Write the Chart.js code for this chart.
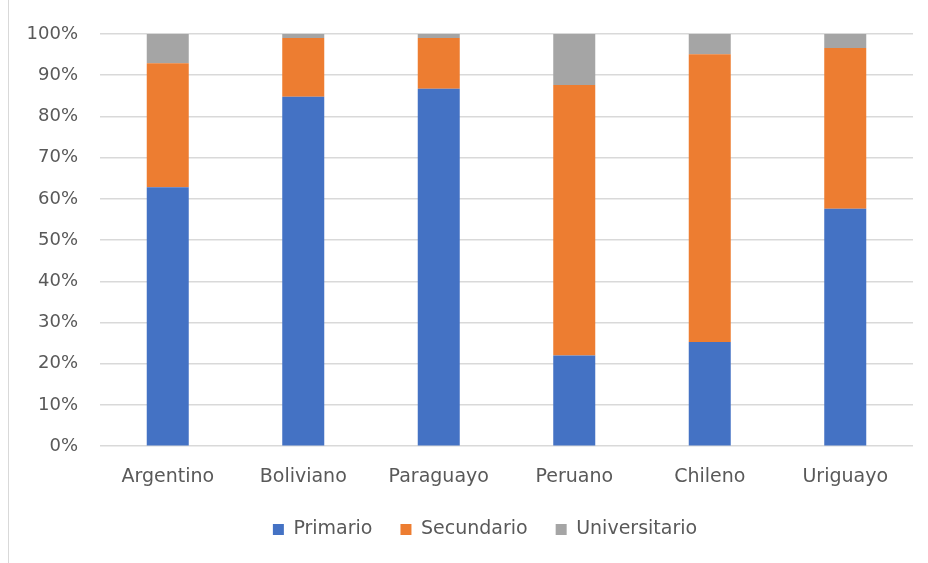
<!DOCTYPE html>
<html>
<head>
<meta charset="utf-8">
<script src="https://cdn.jsdelivr.net/npm/chart.js@4"></script>
<style>
  html, body { margin: 0; padding: 0; background: #fff; }
  #wrap { position: relative; height: 563px; box-sizing: border-box; border-left: 1px solid #d9d9d9; margin-left: 8px; width: 920px; }
  canvas { display: block; }
</style>
</head>
<body>
<div id="wrap"><canvas id="c" width="919" height="563"></canvas></div>
<script>
// Categories and stacked shares (%) by education level
const categories = ['Argentino', 'Boliviano', 'Paraguayo', 'Peruano', 'Chileno', 'Uriguayo'];
const primario = [62.8, 84.8, 86.7, 22.0, 25.3, 57.6];
const secundario = [30.1, 14.2, 12.3, 65.6, 69.8, 39.0];
const universitario = [7.1, 1.0, 1.0, 12.4, 4.9, 3.4];
const yTicks = [0, 10, 20, 30, 40, 50, 60, 70, 80, 90, 100];

const FONT = 'DejaVu Sans';
const TEXT = '#595959';

// Nudge the centred legend row a little to the right
const legendOffset = {
  id: 'legendOffset',
  afterLayout(chart) {
    if (chart.legend) chart.legend.left += 48;
  }
};

new Chart(document.getElementById('c'), {
  type: 'bar',
  data: {
    labels: categories,
    datasets: [
      { label: 'Primario', data: primario, backgroundColor: '#4472C4' },
      { label: 'Secundario', data: secundario, backgroundColor: '#ED7D31' },
      { label: 'Universitario', data: universitario, backgroundColor: '#A5A5A5' }
    ]
  },
  plugins: [legendOffset],
  options: {
    responsive: false,
    animation: false,
    layout: { padding: { left: 0, right: 15, top: 34, bottom: 14 } },
    datasets: { bar: { categoryPercentage: 1, barPercentage: 0.31 } },
    plugins: {
      tooltip: { enabled: false },
      legend: {
        position: 'bottom',
        labels: {
          font: { family: FONT, size: 19 },
          color: TEXT,
          boxWidth: 11,
          boxHeight: 11,
          padding: 28
        }
      }
    },
    scales: {
      x: {
        stacked: true,
        afterFit: (axis) => { axis.height -= 15; },
        grid: { display: false, drawTicks: false },
        border: { display: false },
        ticks: { font: { family: FONT, size: 19 }, color: TEXT, padding: 19 }
      },
      y: {
        stacked: true,
        min: 0,
        max: 100,
        afterFit: (axis) => { axis.width = 91; },
        afterBuildTicks: (axis) => { axis.ticks = yTicks.map(v => ({ value: v })); },
        grid: { color: '#d9d9d9', lineWidth: 1.5, drawTicks: false },
        border: { display: false },
        ticks: {
          font: { family: FONT, size: 18 },
          color: TEXT,
          padding: 22,
          callback: (v) => v + '%'
        }
      }
    }
  }
});
</script>
</body>
</html>
